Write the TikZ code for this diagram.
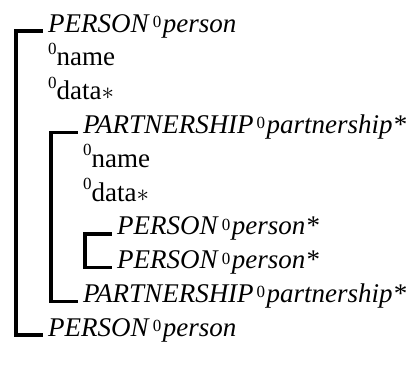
\documentclass[tikz,border=0pt]{standalone}
\usepackage{fontspec}
\setmainfont{Liberation Serif}
\newcommand\zsupa{\raisebox{4.5pt}{\fontsize{17}{17}\selectfont 0}}
\newcommand\zsupb{\raisebox{11.5pt}{\fontsize{17}{17}\selectfont 0}}
\newcommand\tagline[2]{\textit{#1}\hspace{3pt}\zsupa\hspace{1.5pt}\textit{#2}}
\begin{document}
\begin{tikzpicture}[x=1pt,y=1pt,
  row/.style={anchor=base west,inner sep=0pt,font=\fontsize{27}{33}\selectfont},
  brack/.style={line width=3.5pt},
]
\useasboundingbox (0,0) rectangle (411,-365);
\def\dy{33.8}
\node[row] (r1)  at (48,{-32-0*\dy})  {\tagline{PERSON}{person}};
\node[row] (r2)  at (48,{-32-1*\dy})  {\zsupb name};
\node[row] (r3)  at (48,{-32-2*\dy})  {\zsupb data$\ast$};
\node[row] (r4)  at (83,{-32-3*\dy})  {\tagline{PARTNERSHIP}{partnership*}};
\node[row] (r5)  at (83,{-32-4*\dy})  {\zsupb name};
\node[row] (r6)  at (83,{-32-5*\dy})  {\zsupb data$\ast$};
\node[row] (r7)  at (117,{-32-6*\dy}) {\tagline{PERSON}{person*}};
\node[row] (r8)  at (117,{-32-7*\dy}) {\tagline{PERSON}{person*}};
\node[row] (r9)  at (83,{-32-8*\dy})  {\tagline{PARTNERSHIP}{partnership*}};
\node[row] (r10) at (48,{-32-9*\dy})  {\tagline{PERSON}{person}};
\draw[brack] ([shift={(-5.5,1)}]r1.base west) -- ++(-26.5,0) |- ([shift={(-5.5,1)}]r10.base west);
\draw[brack] ([shift={(-5.5,1)}]r4.base west) -- ++(-26.5,0) |- ([shift={(-5.5,1)}]r9.base west);
\draw[brack] ([shift={(-5.5,1)}]r7.base west) -- ++(-26.5,0) |- ([shift={(-5.5,1)}]r8.base west);
\end{tikzpicture}
\end{document}
